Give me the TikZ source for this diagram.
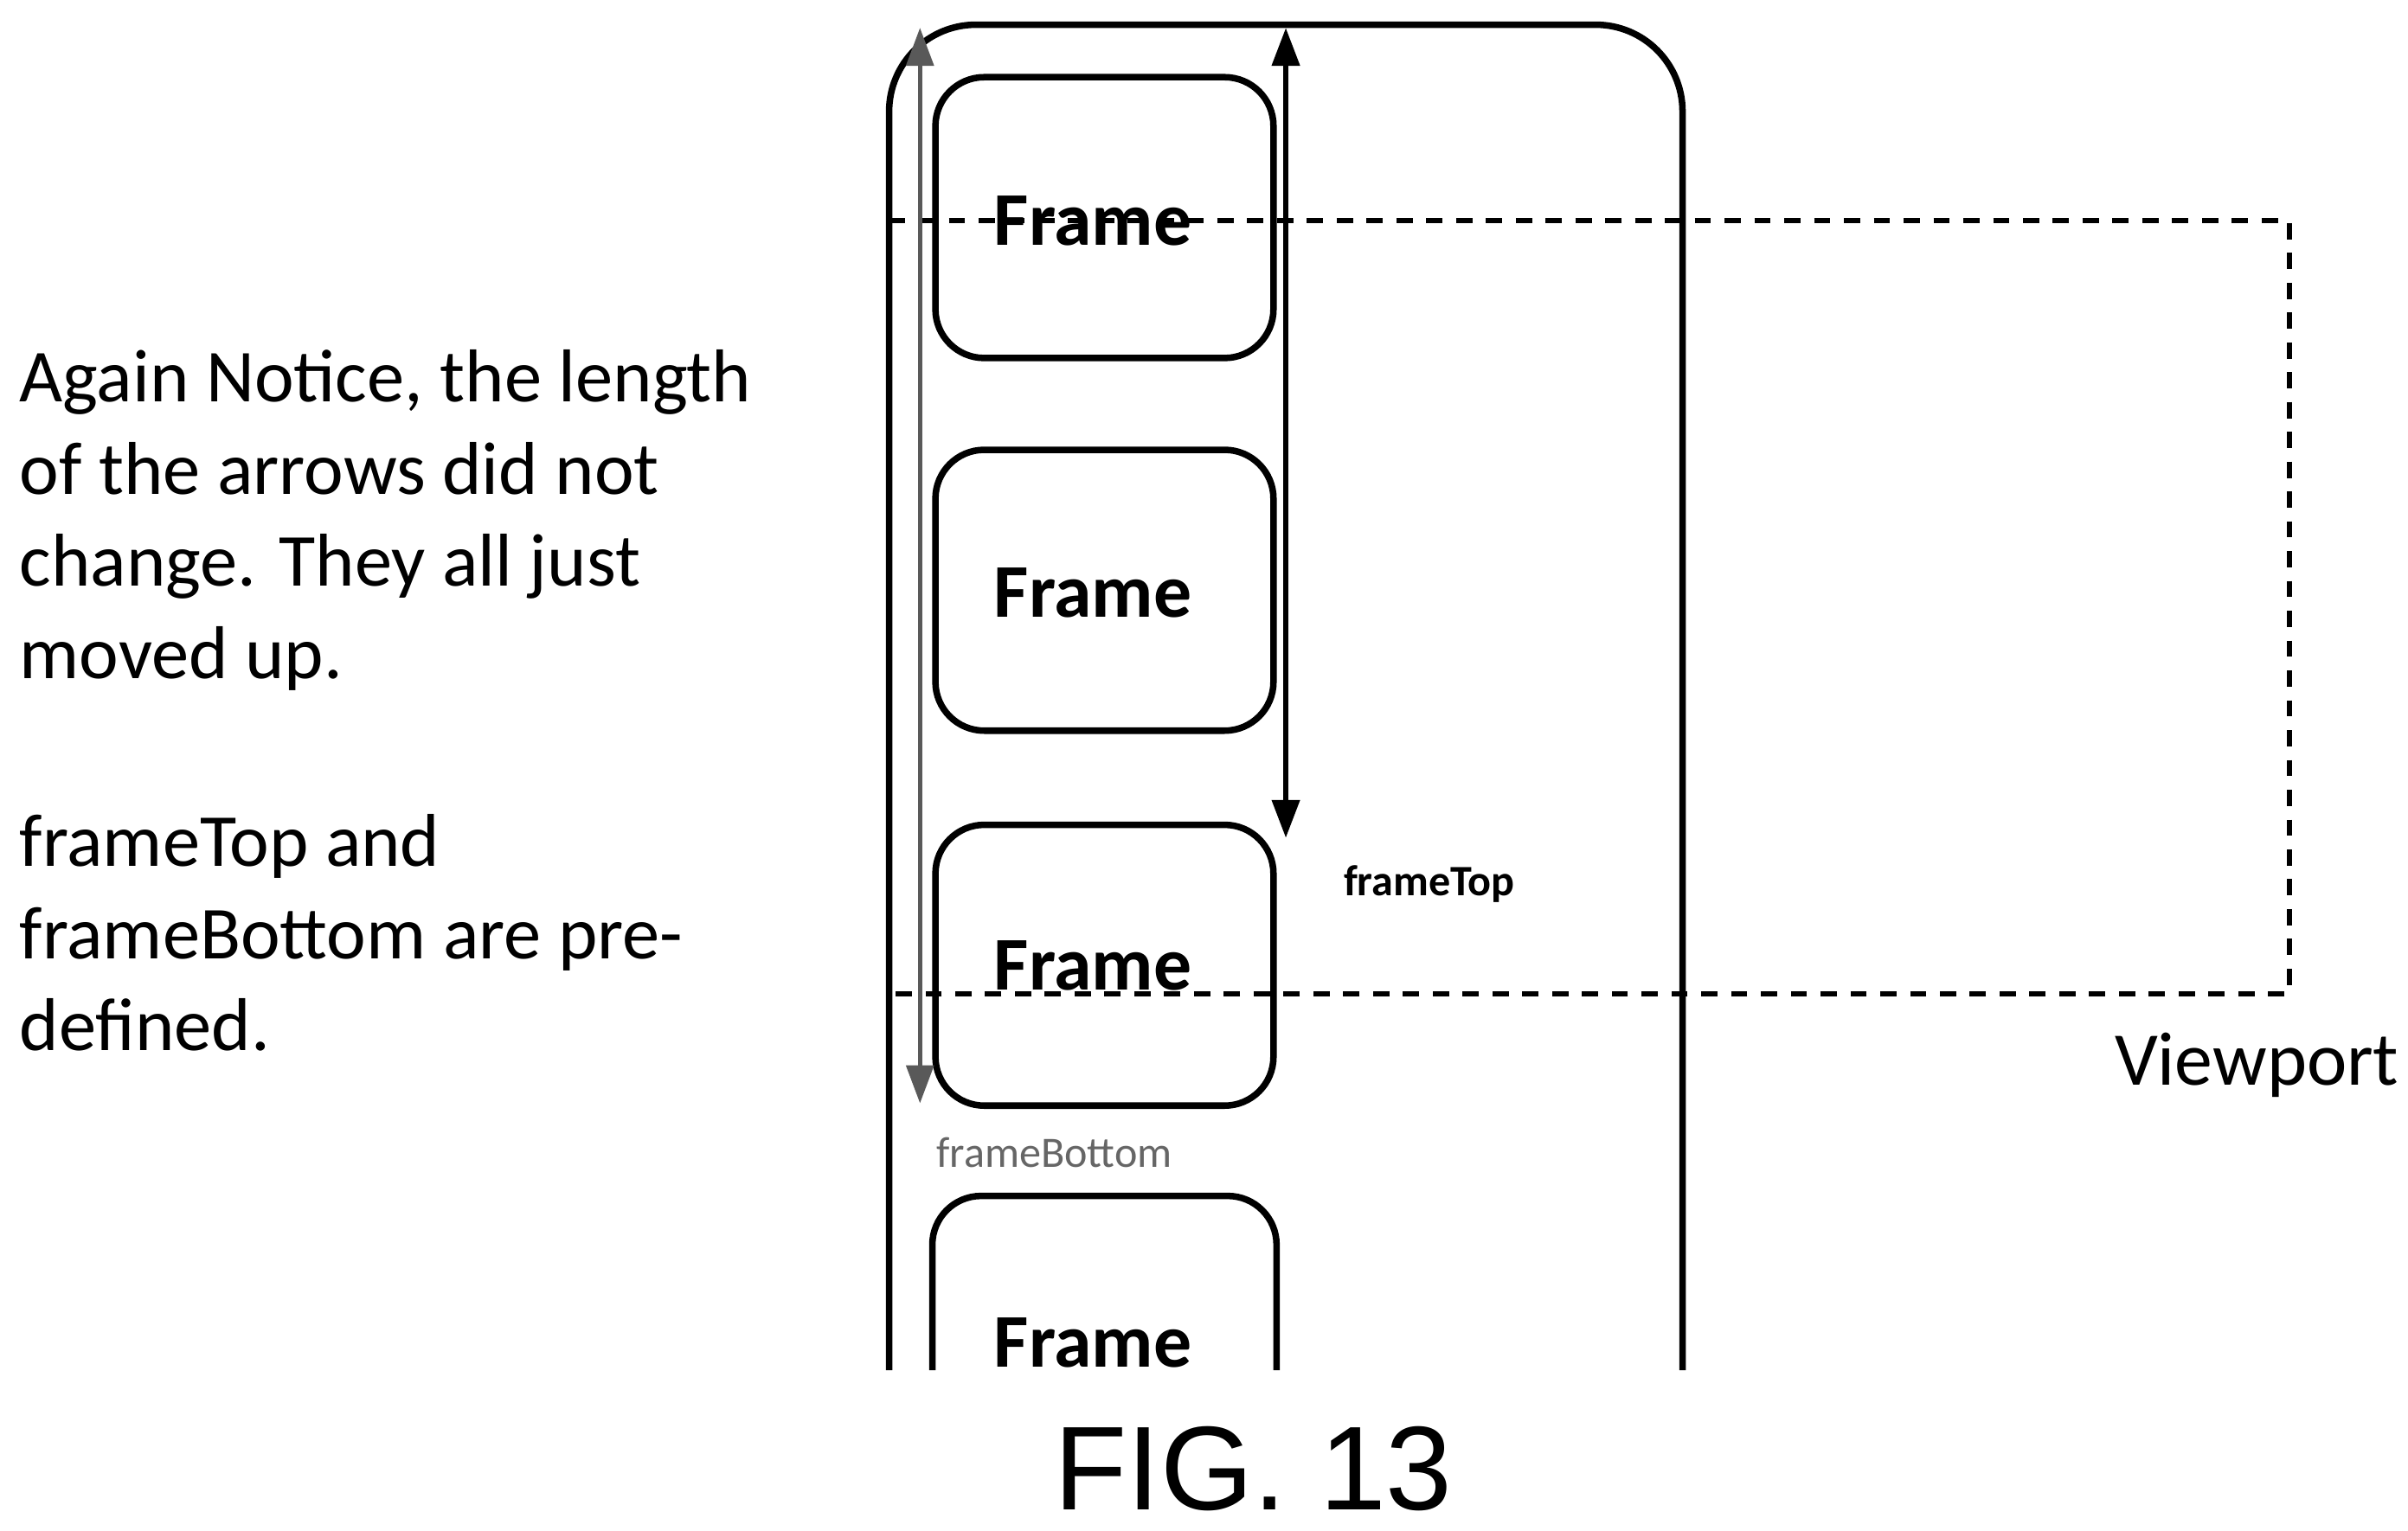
\documentclass[tikz,border=0pt]{standalone}
\usepackage{fontspec}
\setmainfont{Carlito}
\newfontfamily\figfont{Liberation Sans}
\usetikzlibrary{arrows.meta}

\tikzset{
  frm/.style={draw, line width=1.2pt, rounded corners=9pt, minimum width=21.9mm, minimum height=18.2mm, inner sep=0pt},
  lbl/.style={font=\fontsize{14pt}{16pt}\selectfont\bfseries},
  dim/.style={line width=1pt, {Triangle[width=5pt,length=7pt]}-{Triangle[width=5pt,length=7pt]}}
}

\begin{document}
\begin{tikzpicture}[x=0.1mm, y=-0.1mm]
        \useasboundingbox (0,0) rectangle (1560,991.6);
        % outer container, open at the bottom
        \draw[line width=1.2pt, rounded corners=16pt] (576,888) -- (576,16) -- (1090,16) -- (1090,888);
        % frames
        \node[frm] (F1) at (715.5,141) {};
        \node[frm] (F2) at (715.5,382.5) {};
        \node[frm] (F3) at (715.5,625.5) {};
        \draw[line width=1.2pt, rounded corners=9pt] (604,888) -- (604,775) -- (827,775) -- (827,888);
        \node[lbl] (t1) at (708,143) {Frame};
        \node[lbl] (t2) at (708,384) {Frame};
        \node[lbl] (t3) at (708,626) {Frame};
        \node[lbl] (t4) at (708,870) {Frame};
        % viewport
        \draw[line width=1pt, dash pattern=on 3pt off 2.5pt] (576,143) -- (1483,143) -- (1483,644) -- (576,644);
        \node[font=\fontsize{14pt}{16pt}\selectfont] (vp) at (1462,690) {Viewport};
        % arrows
        \coordinate (tA) at (833,18);
        \coordinate (tB) at (833,543);
        \coordinate (bA) at (596,18);
        \coordinate (bB) at (596,715);
        \draw[dim] (tA) -- (tB);
        \draw[dim, gray!70!black, line width=0.8pt] (bA) -- (bB);
        \node[font=\fontsize{8pt}{9pt}\selectfont\bfseries] (ft) at (926,573) {frameTop};
        \node[font=\fontsize{8pt}{9pt}\selectfont, gray!80!black] (fb) at (683,747) {frameBottom};
        % notes
        \node[anchor=north west, align=left, font=\fontsize{13.8pt}{17pt}\selectfont, inner sep=0pt] (note1) at (12,226)
          {Again Notice, the length\\of the arrows did not\\change. They all just\\moved up.};
        \node[anchor=north west, align=left, font=\fontsize{13.8pt}{17pt}\selectfont, inner sep=0pt] (note2) at (12,527)
          {frameTop and\\frameBottom are pre-\\defined.};
        \node[font=\figfont\fontsize{22pt}{24pt}\selectfont] (fig) at (812,952) {FIG. 13};
\end{tikzpicture}
\end{document}
